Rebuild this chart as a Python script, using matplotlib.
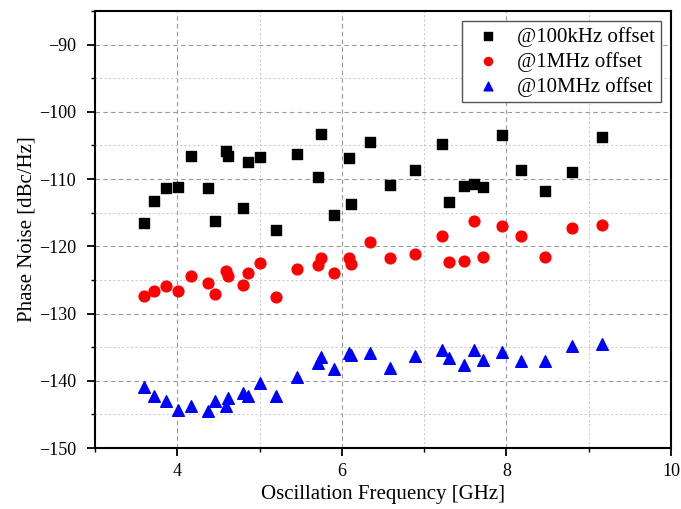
import matplotlib
matplotlib.use("Agg")
import matplotlib.pyplot as plt
from matplotlib.ticker import MultipleLocator

plt.rcParams['font.family'] = ['Liberation Serif', 'DejaVu Serif']
plt.rcParams['mathtext.fontset'] = 'stix'

# oscillation frequency of each measured point [GHz]
freq_ghz = [3.59, 3.72, 3.86, 4.01, 4.17, 4.37, 4.46, 4.59, 4.62, 4.80, 4.86,
            5.00, 5.20, 5.46, 5.71, 5.75, 5.90, 6.09, 6.11, 6.34, 6.58, 6.89,
            7.22, 7.30, 7.49, 7.61, 7.72, 7.95, 8.18, 8.47, 8.80, 9.16]

pn_100k = [-116.5, -113.3, -111.4, -111.2, -106.5, -111.3, -116.2, -105.8, -106.5,
           -114.3, -107.4, -106.7, -117.6, -106.2, -109.7, -103.3, -115.4, -106.9,
           -113.7, -104.5, -110.9, -108.7, -104.8, -113.4, -111.1, -110.8, -111.2,
           -103.5, -108.6, -111.7, -109.0, -103.7]

pn_1m = [-127.4, -126.7, -125.9, -126.6, -124.4, -125.5, -127.1, -123.7, -124.4,
         -125.7, -123.9, -122.5, -127.6, -123.3, -122.8, -121.7, -124.0, -121.7,
         -122.6, -119.3, -121.8, -121.1, -118.5, -122.4, -122.2, -116.2, -121.6,
         -117.0, -118.5, -121.6, -117.3, -116.8]

pn_10m = [-140.9, -142.2, -143.0, -144.3, -143.7, -144.5, -143.0, -143.8, -142.5,
          -141.8, -142.2, -140.4, -142.2, -139.4, -137.3, -136.4, -138.2, -135.9,
          -136.1, -135.9, -138.1, -136.3, -135.4, -136.6, -137.7, -135.4, -136.9,
          -135.7, -137.1, -137.0, -134.9, -134.5]

labels = ["@100kHz offset", "@1MHz offset", "@10MHz offset"]

fig = plt.figure(figsize=(6.81, 5.09), dpi=100)
ax = fig.add_axes([0.1395, 0.1198, 0.8458, 0.8586])

ax.scatter(freq_ghz, pn_100k, marker='s', s=50, color='black', label=labels[0], zorder=3)
ax.scatter(freq_ghz, pn_1m, marker='o', s=60, color='#ff0000', label=labels[1], zorder=3)
ax.scatter(freq_ghz, pn_10m, marker='^', s=70, color='#0000ff', label=labels[2], zorder=3)

ax.set_xlim(3, 10)
ax.set_ylim(-150, -85)
ax.xaxis.set_major_locator(MultipleLocator(2))
ax.xaxis.set_minor_locator(MultipleLocator(1))
ax.yaxis.set_major_locator(MultipleLocator(10))
ax.yaxis.set_minor_locator(MultipleLocator(5))

ax.grid(True, which='major', color='#9a9a9a', linestyle=(0, (4, 3)), linewidth=0.8)
ax.grid(True, which='minor', color='#cccccc', linestyle=(0, (2, 2)), linewidth=0.8)
ax.set_axisbelow(True)

for sp in ax.spines.values():
    sp.set_linewidth(1.5)
ax.tick_params(which='major', direction='out', length=5.5, width=1.3, labelsize=13,
               top=False, right=False)
ax.tick_params(axis='y', which='major', pad=8)
ax.tick_params(axis='x', which='major', pad=5)
ax.tick_params(which='minor', direction='out', length=3, width=1.0, top=False, right=False)

ax.set_xlabel("Oscillation Frequency [GHz]", fontsize=15, labelpad=4)
ax.set_ylabel("Phase Noise [dBc/Hz]", fontsize=15, labelpad=2)

leg = ax.legend(loc='upper right', fontsize=15, fancybox=False, framealpha=1,
                edgecolor='#555555', borderpad=0.25, labelspacing=0.25,
                handletextpad=0.4, borderaxespad=0.5, markerscale=0.75)
leg.get_frame().set_linewidth(1.0)

fig.savefig("out.png", dpi=100)
